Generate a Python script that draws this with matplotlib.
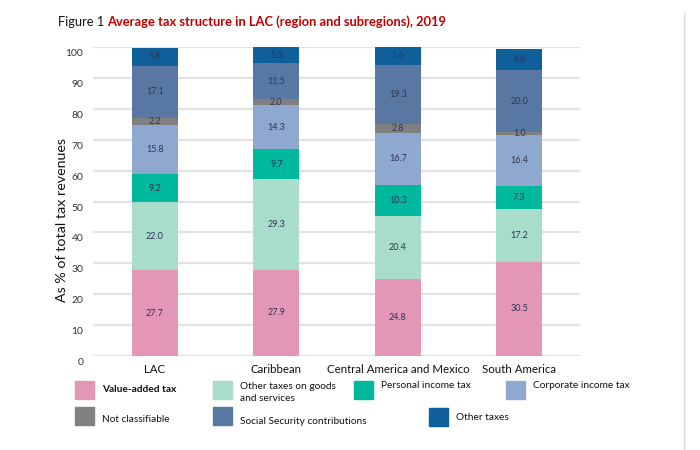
import matplotlib.pyplot as plt
from matplotlib.patches import Rectangle
from matplotlib.lines import Line2D
import matplotlib.transforms as mtransforms

plt.rcParams['font.family'] = ['Lato', 'DejaVu Sans']

regions = ['LAC', 'Caribbean', 'Central America and Mexico', 'South America']
vat = [27.7, 27.9, 24.8, 30.5]
other_goods = [22.0, 29.3, 20.4, 17.2]
personal_income = [9.2, 9.7, 10.3, 7.3]
corporate_income = [15.8, 14.3, 16.7, 16.4]
not_classifiable = [2.2, 2.0, 2.8, 1.0]
social_security = [17.1, 11.5, 19.3, 20.0]
other_taxes = [5.8, 5.3, 5.6, 6.8]

series = [
    ('Value-added tax', vat, '#e496b6'),
    ('Other taxes on goods\nand services', other_goods, '#a8dccb'),
    ('Personal income tax', personal_income, '#00b89b'),
    ('Corporate income tax', corporate_income, '#8fa8d0'),
    ('Not classifiable', not_classifiable, '#808080'),
    ('Social Security contributions', social_security, '#5878a3'),
    ('Other taxes', other_taxes, '#0f5f9b'),
]

fig = plt.figure(figsize=(7, 4.5), dpi=100)
ax = fig.add_axes([93 / 700, 1 - 356 / 450, 487 / 700, 309 / 450])

x = list(range(len(regions)))
bottom = [0.0] * len(regions)
for name, vals, color in series:
    ax.bar(x, vals, width=0.38, bottom=bottom, color=color, zorder=2)
    for i, v in enumerate(vals):
        ax.text(x[i], bottom[i] + v / 2, f'{v:.1f}', ha='center', va='center',
                fontsize=6.5, color='#2e3550', zorder=3)
    bottom = [b + v for b, v in zip(bottom, vals)]

ax.set_xlim(-0.51, 3.5)
ax.set_ylim(0, 100)
ax.set_yticks(range(0, 101, 10))
ax.yaxis.grid(True, color='#e3e3e3', linewidth=1.6, zorder=0)
ax.set_axisbelow(True)
for s in ax.spines.values():
    s.set_visible(False)
ax.tick_params(axis='both', length=0)
ax.tick_params(axis='y', labelsize=7.5, labelcolor='#333333', pad=7)
ax.set_xticks(x)
ax.set_xticklabels(regions, fontsize=8.3, color='#111111')
ax.tick_params(axis='x', pad=6)
# tick labels sit slightly below their gridlines
off = mtransforms.ScaledTranslation(0, -4 / 72, fig.dpi_scale_trans)
for lbl in ax.get_yticklabels():
    lbl.set_transform(lbl.get_transform() + off)
ax.set_ylabel('As % of total tax revenues', fontsize=10.3, color='#111111')
ax.yaxis.set_label_coords(-0.051, 0.44)

# title: black prefix followed by red bold text
t1 = fig.text(58 / 700, 1 - 22 / 450, 'Figure 1 ', fontsize=9.3, color='#111111', va='center')
ax.annotate('Average tax structure in LAC (region and subregions), 2019', xy=(1, 0.5),
            xycoords=t1, va='center', ha='left', fontsize=9.3, color='#c00000',
            fontweight='bold', annotation_clip=False)

# legend, placed as in the original layout (pixel coordinates)
legend_pos = [(75, 381), (213, 381), (354, 381), (506, 381),
              (75, 407), (213, 407), (429, 408)]
text_dy = [8, 1, 4, 4, 13, 15, 9]
for (name, vals, color), (px, py), dy in zip(series, legend_pos, text_dy):
    fig.add_artist(Rectangle((px / 700, 1 - (py + 18) / 450), 19 / 700, 18 / 450,
                             color=color, transform=fig.transFigure))
    weight = 'bold' if name == 'Value-added tax' else 'normal'
    fig.text((px + 27) / 700, 1 - (py + dy) / 450, name, fontsize=7.3, color='#111111',
             va='center' if '\n' not in name else 'top', fontweight=weight,
             linespacing=1.45)

fig.add_artist(Line2D([684 / 700, 684 / 700], [0, 1 - 13 / 450], color='#d8d8d8',
                      linewidth=1, transform=fig.transFigure))

fig.savefig('out.png', dpi=100)
